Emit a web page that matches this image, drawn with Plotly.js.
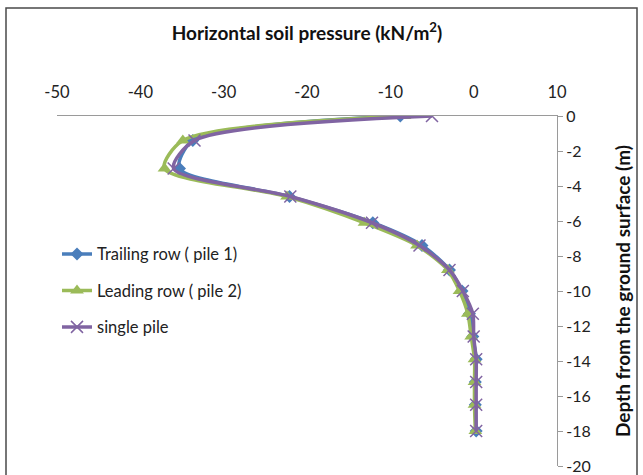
<!DOCTYPE html>
<html>
<head>
<meta charset="utf-8">
<script src="https://cdn.plot.ly/plotly-3.0.1.min.js"></script>
<style>
  html, body { margin: 0; padding: 0; background: #ffffff; }
  #chart { width: 643px; height: 475px; }
</style>
</head>
<body>
<div id="chart"></div>
<script>
// Depth from the ground surface (m)
const depth = [0, -1.4, -3.0, -4.6, -6.1, -7.4, -8.8, -10.0, -11.3, -12.6, -13.9, -15.2, -16.5, -18.0];
// Horizontal soil pressure (kN/m2)
const trailingRow = [-8.8, -33.7, -35.3, -22.1, -12.1, -6.2, -2.9, -1.4, -0.5, -0.1, 0.3, 0.2, 0.2, 0.3];
const leadingRow  = [-8.3, -34.9, -37.1, -22.4, -13.1, -6.8, -3.1, -1.7, -0.7, -0.3, 0.1, 0.1, 0.1, 0.2];
const singlePile  = [-5.0, -33.5, -36.0, -22.0, -12.2, -6.5, -2.9, -1.3, -0.1, 0.0, 0.3, 0.3, 0.3, 0.3];
const seriesNames = ["Trailing row ( pile 1)", "Leading row ( pile 2)", "single pile"];
const xTicks = [-50, -40, -30, -20, -10, 0, 10];
const yTicks = [0, -2, -4, -6, -8, -10, -12, -14, -16, -18, -20];

const FONT = "Lato, 'Open Sans', 'Liberation Sans', sans-serif";

const traces = [
  {
    x: trailingRow, y: depth, name: seriesNames[0], legendgroup: "a",
    mode: "lines+markers", type: "scatter",
    line: { color: "#4A7EBB", width: 3.5, shape: "spline", smoothing: 0.8 },
    marker: { symbol: "diamond", size: 10, color: "#4A7EBB" }
  },
  {
    x: leadingRow, y: depth, name: seriesNames[1], legendgroup: "b",
    mode: "lines+markers", type: "scatter",
    line: { color: "#9BBB59", width: 3.5, shape: "spline", smoothing: 0.8 },
    marker: { symbol: "triangle-up", size: 12, color: "#9BBB59" }
  },
  {
    x: singlePile, y: depth, name: seriesNames[2], legendgroup: "c",
    mode: "lines+markers", type: "scatter",
    line: { color: "#8064A2", width: 3.5, shape: "spline", smoothing: 0.8 },
    marker: { symbol: "x-thin-open", size: 12, color: "#8064A2", line: { width: 1.5, color: "#8064A2" } }
  }
];

const layout = {
  width: 643, height: 475,
  margin: { l: 57, r: 86, t: 116, b: 9 },
  paper_bgcolor: "#ffffff", plot_bgcolor: "#ffffff",
  font: { family: FONT, size: 16.5, color: "#222222" },
  title: {
    text: "<b>Horizontal soil pressure (kN/m<sup>2</sup>)</b>",
    font: { family: FONT, size: 19, color: "#111111" },
    x: 0.5, xref: "paper", xanchor: "center",
    y: 0.93, yref: "container", yanchor: "middle"
  },
  xaxis: {
    range: [-50, 10], side: "top",
    tickvals: xTicks, ticktext: xTicks.map(String),
    showgrid: false, zeroline: false,
    showline: true, linecolor: "#9a9a9a", linewidth: 1.3,
    ticks: "", ticklabelstandoff: 10,
    tickfont: { family: FONT, size: 16.5, color: "#222222" }
  },
  yaxis: {
    range: [-20, 0], side: "right",
    tickvals: yTicks, ticktext: yTicks.map(String),
    showgrid: false, zeroline: false,
    showline: true, linecolor: "#9a9a9a", linewidth: 1.3,
    ticks: "outside", ticklen: 5, tickcolor: "#9a9a9a", tickwidth: 1,
    tickfont: { family: FONT, size: 16, color: "#222222" },
    title: {
      text: "<b>Depth from the ground surface (m)</b>",
      font: { family: FONT, size: 19, color: "#111111" },
      standoff: 26
    }
  },
  showlegend: true,
  legend: {
    x: 0, xanchor: "left", y: 0.655, yanchor: "top",
    bgcolor: "rgba(0,0,0,0)",
    font: { family: FONT, size: 16.5, color: "#222222" },
    tracegroupgap: 12, itemwidth: 30
  },
  shapes: [
    {
      type: "rect", xref: "paper", yref: "paper",
      x0: -0.102, x1: 1.16, y0: -0.04, y1: 1.3086,
      line: { color: "#4a4a4a", width: 1.5 }, fillcolor: "rgba(0,0,0,0)", layer: "below"
    }
  ]
};

Plotly.newPlot("chart", traces, layout, { displayModeBar: false, responsive: false });
</script>
</body>
</html>
